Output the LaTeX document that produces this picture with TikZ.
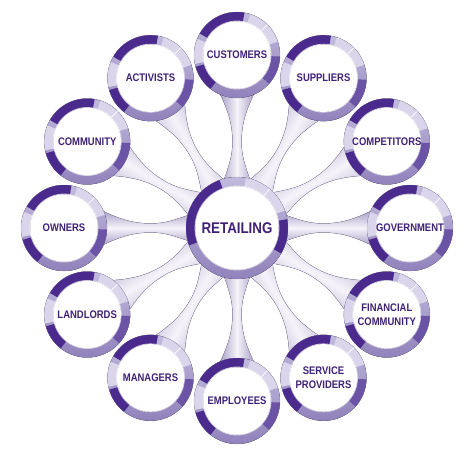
\documentclass[tikz,border=0pt]{standalone}
\usepackage{fontspec}
\newfontfamily\lblfont[FakeStretch=0.86]{Liberation Sans}
\definecolor{txt}{HTML}{3F2176}
\definecolor{dk}{HTML}{4A2A8C}
\definecolor{mdk}{HTML}{6B53A6}
\definecolor{lt}{HTML}{DAD5EB}
\definecolor{ringA}{HTML}{C2BADD}
\definecolor{ringB}{HTML}{9083BC}
\definecolor{spE}{HTML}{A69CC5}
\definecolor{spM}{HTML}{F6F4FA}
\tikzset{
  lbl/.style={font=\lblfont\bfseries\fontsize{11}{13.5}\selectfont, text=txt, align=center, inner sep=0pt},
  biglbl/.style={font=\lblfont\bfseries\fontsize{15.5}{18}\selectfont, text=txt, inner sep=0pt},
  spokeshape/.style={top color=spE, bottom color=spE, middle color=spM, draw=spE!85!black, line width=0.3pt}
}
\newcommand\arcseg[5]{%
  ([shift={(#4:#2)}]#1) arc[start angle=#4, end angle=#5, radius=#2]
      -- ([shift={(#5:#3)}]#1) arc[start angle=#5, end angle=#4, radius=#3] -- cycle}
\newcommand\ringdraw[3]{%
  \fill[white] (#1) circle (#3);
  \fill[even odd rule, top color=ringA, bottom color=ringB] (#1) circle (#2) (#1) circle (#3);
  \foreach \sa/\sb in {18/72,158/192}{\fill[lt] \arcseg{#1}{#2}{#3}{\sa}{\sb};}
  \foreach \sa/\sb in {80/150,196/232}{\fill[dk] \arcseg{#1}{#2}{#3}{\sa}{\sb};}
  \fill[mdk] \arcseg{#1}{#2}{#3}{-42}{-2};
  \foreach \sa in {45}{\draw[white, line width=0.7pt] ([shift={(\sa:#3)}]#1) -- ([shift={(\sa:#2)}]#1);}
  \draw[ringB!70!black, line width=0.3pt, opacity=0.4] (#1) circle (#2);
  \draw[white, line width=0.8pt, opacity=0.7] (#1) circle (#3);
}
\begin{document}
\begin{tikzpicture}[x=1pt,y=1pt]
\useasboundingbox[fill=white] (0,0) rectangle (474,-452);
\coordinate (c) at (237,-228);
% spokes
\foreach \k in {0,...,11}{
  \pgfmathsetmacro\ang{90-30*\k}
  \begin{scope}[shift={(c)}, rotate=\ang]
    \fill[spokeshape, shading angle=\ang] (40,16) .. controls (62,8) and (72,4.5) .. (86,4.5)
      .. controls (104,4.5) and (118,9) .. (136,18) -- (136,-18)
      .. controls (118,-9) and (104,-4.5) .. (86,-4.5)
      .. controls (72,-4.5) and (62,-8) .. (40,-16) -- cycle;
  \end{scope}
}
% outer circles
\foreach \k/\t in {0/CUSTOMERS,1/SUPPLIERS,2/COMPETITORS,3/GOVERNMENT,4/{FINANCIAL\\COMMUNITY},5/{SERVICE\\PROVIDERS},6/EMPLOYEES,7/MANAGERS,8/LANDLORDS,9/OWNERS,10/COMMUNITY,11/ACTIVISTS}{
  \pgfmathsetmacro\ang{90-30*\k}
  \coordinate (p\k) at ([shift={(\ang:173pt)}]c);
  \ringdraw{p\k}{43pt}{34pt}
  \node[lbl] (o\k) at (p\k) {\t};
}
% center
\fill[white] (c) circle (42pt);
\fill[even odd rule, top color=ringA, bottom color=ringB] (c) circle (51pt) (c) circle (42pt);
\foreach \sa/\sb in {20/80}{\fill[lt] \arcseg{c}{51pt}{42pt}{\sa}{\sb};}
\foreach \sa/\sb in {110/200,-30/10}{\fill[dk] \arcseg{c}{51pt}{42pt}{\sa}{\sb};}
\foreach \sa in {50}{\draw[white, line width=0.7pt] ([shift={(\sa:42pt)}]c) -- ([shift={(\sa:51pt)}]c);}
\draw[ringB!70!black, line width=0.3pt, opacity=0.4] (c) circle (51pt);
\draw[white, line width=0.8pt, opacity=0.7] (c) circle (42pt);
\node[biglbl] (center) at (c) {RETAILING};
\end{tikzpicture}
\end{document}
